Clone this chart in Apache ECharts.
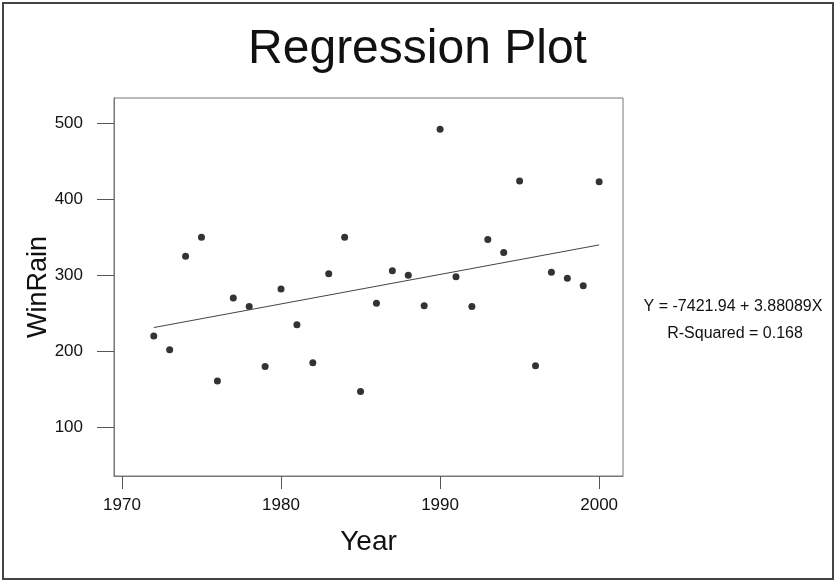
<!DOCTYPE html>
<html>
<head>
<meta charset="utf-8">
<script src="https://cdn.jsdelivr.net/npm/echarts@6/dist/echarts.min.js"></script>
<style>
html, body { margin: 0; padding: 0; background: #fff; }
#chart { width: 835px; height: 582px; }
</style>
</head>
<body>
<div id="chart"></div>
<script>
// data
var years = [1972, 1973, 1974, 1975, 1976, 1977, 1978, 1979, 1980, 1981,
             1982, 1983, 1984, 1985, 1986, 1987, 1988, 1989, 1990, 1991,
             1992, 1993, 1994, 1995, 1996, 1997, 1998, 1999, 2000];
var winRain = [220, 202, 325, 350, 161, 270, 259, 180, 282, 235,
               185, 302, 350, 147, 263, 306, 300, 260, 492, 298,
               259, 347, 330, 424, 181, 304, 296, 286, 423];
var xTicks = [1970, 1980, 1990, 2000];
var yTicks = [100, 200, 300, 400, 500];
var intercept = -7421.94;
var slope = 3.88089;
var rSquared = 0.168;

var points = [];
for (var i = 0; i < years.length; i++) {
    points.push([years[i], winRain[i]]);
}
var x0 = years[0], x1 = years[years.length - 1];
var fitLine = [[x0, intercept + slope * x0], [x1, intercept + slope * x1]];

var FONT = '"Liberation Sans", Arial, sans-serif';
var chart = echarts.init(document.getElementById('chart'));

var option = {
    animation: false,
    backgroundColor: '#fff',
    title: {
        text: 'Regression Plot',
        left: 'center',
        top: 21,
        textStyle: { fontFamily: FONT, fontSize: 48, fontWeight: 'normal', color: '#111' }
    },
    grid: {
        left: 114, right: 212, top: 98, bottom: 106,
        show: true, borderColor: '#777', borderWidth: 1, backgroundColor: 'transparent'
    },
    xAxis: {
        type: 'value',
        min: 1969.5,
        max: 2001.5,
        name: 'Year',
        nameLocation: 'middle',
        nameGap: 52,
        nameMoveOverlap: false,
        nameTextStyle: { fontFamily: FONT, fontSize: 28, color: '#111' },
        splitLine: { show: false },
        axisLine: { show: true, lineStyle: { color: '#777', width: 1 } },
        axisTick: { show: true, length: 13, customValues: xTicks, lineStyle: { color: '#555' } },
        axisLabel: {
            customValues: xTicks, margin: 21,
            formatter: function (v) { return String(v); },
            fontFamily: FONT, fontSize: 17, color: '#111'
        }
    },
    yAxis: {
        type: 'value',
        min: 36,
        max: 533,
        name: 'WinRain',
        nameLocation: 'middle',
        nameRotate: 90,
        nameGap: 62,
        nameMoveOverlap: false,
        nameTextStyle: { fontFamily: FONT, fontSize: 27, color: '#111' },
        splitLine: { show: false },
        axisLine: { show: true, lineStyle: { color: '#777', width: 1 } },
        axisTick: { show: true, length: 17, customValues: yTicks, lineStyle: { color: '#555' } },
        axisLabel: {
            customValues: yTicks, margin: 31,
            fontFamily: FONT, fontSize: 17, color: '#111'
        }
    },
    series: [
        {
            name: 'WinRain',
            type: 'scatter',
            data: points,
            symbol: 'circle',
            symbolSize: 7,
            itemStyle: { color: '#000' }
        },
        {
            name: 'fit',
            type: 'line',
            data: fitLine,
            symbol: 'none',
            lineStyle: { color: '#444', width: 1 }
        }
    ],
    graphic: [
        {
            type: 'rect',
            shape: { x: 3, y: 3, width: 830, height: 576 },
            style: { fill: 'none', stroke: '#444', lineWidth: 2 }
        },
        {
            type: 'text',
            x: 733, y: 307,
            style: {
                text: 'Y = ' + intercept + ' + ' + slope + 'X',
                font: '16px ' + FONT, fill: '#111',
                align: 'center', verticalAlign: 'middle'
            }
        },
        {
            type: 'text',
            x: 735, y: 334,
            style: {
                text: 'R-Squared = ' + rSquared,
                font: '16px ' + FONT, fill: '#111',
                align: 'center', verticalAlign: 'middle'
            }
        }
    ]
};
chart.setOption(option);
</script>
</body>
</html>
